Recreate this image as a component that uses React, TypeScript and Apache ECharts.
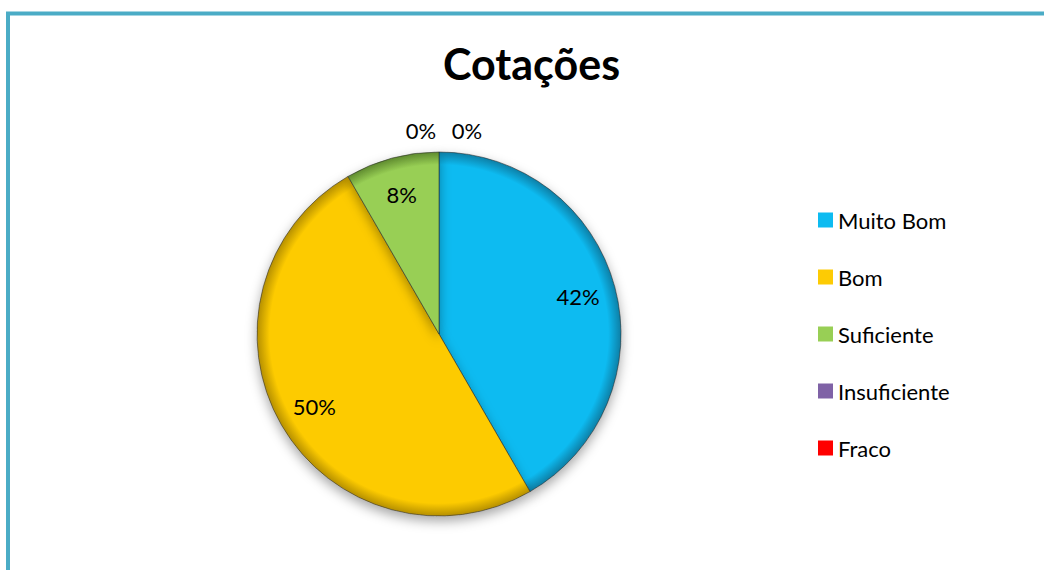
import React, { useEffect, useRef } from "react";
import * as echarts from "echarts";

const categories = ["Muito Bom", "Bom", "Suficiente", "Insuficiente", "Fraco"];
const counts = [5, 6, 1, 0, 0];
const colors = ["#0DBBF1", "#FDCB04", "#98CF55", "#7F62A6", "#FF0000"];
const rimColors = ["#0A7FA6", "#B58F06", "#5E8A2E", "#553F72", "#A00000"];
const titleText = "Cotações";

const FONT = "Lato, 'Open Sans', sans-serif";
const CX = 439;
const CY = 334;
const R = 182;

export default function App() {
  const ref = useRef<HTMLDivElement>(null);
  useEffect(() => {
    if (!ref.current) return;
    const chart = echarts.init(ref.current, undefined, { renderer: "svg" });
    const mainData = categories.map((name, i) => ({
      name,
      value: counts[i],
      itemStyle: {
        color: {
          type: "radial",
          x: CX,
          y: CY,
          r: R,
          global: true,
          colorStops: [
            { offset: 0, color: colors[i] },
            { offset: 0.93, color: colors[i] },
            { offset: 1, color: rimColors[i] },
          ],
        },
      },
    }));
    const labelData = categories.map((name, i) => ({ name, value: counts[i] }));
    chart.setOption({
      animation: false,
      color: colors,
      title: {
        text: titleText,
        left: 438,
        top: 37,
        textStyle: { fontFamily: FONT, fontSize: 43, fontWeight: "bold", color: "#000" },
      },
      legend: {
        data: categories.map((name, i) => ({
          name,
          itemStyle: { color: colors[i], borderWidth: 0 },
        })),
        orient: "vertical",
        left: 813,
        top: 204,
        itemWidth: 15,
        itemHeight: 15,
        itemGap: 35,
        icon: "rect",
        selectedMode: false,
        itemStyle: { borderWidth: 0, shadowBlur: 0 },
        textStyle: { fontFamily: FONT, fontSize: 22, color: "#000" },
      },
      graphic: [
        {
          type: "rect",
          shape: { x: 8, y: 13.5, width: 1200, height: 700 },
          style: { fill: "none", stroke: "#4BACC6", lineWidth: 4 },
          silent: true,
        },
      ],
      series: [
        {
          type: "pie",
          center: [CX, CY],
          radius: R,
          startAngle: 90,
          clockwise: true,
          silent: true,
          label: { show: false },
          labelLine: { show: false },
          itemStyle: {
            borderColor: "rgba(40,40,40,0.55)",
            borderWidth: 1,
            shadowBlur: 12,
            shadowOffsetY: 5,
            shadowColor: "rgba(0,0,0,0.35)",
          },
          data: mainData,
        },
        {
          type: "pie",
          center: [CX, CY],
          radius: [100, R],
          startAngle: 90,
          clockwise: true,
          silent: true,
          percentPrecision: 0,
          avoidLabelOverlap: false,
          itemStyle: { color: "rgba(0,0,0,0)", borderWidth: 0 },
          label: {
            show: true,
            position: "inside",
            formatter: "{d}%",
            fontFamily: FONT,
            fontSize: 22,
            color: "#000",
          },
          labelLine: { show: false },
          labelLayout: (params: any) => {
            if (params.dataIndex === 3) return { dx: -18, dy: -60 };
            if (params.dataIndex === 4) return { dx: 28, dy: -60 };
            return {};
          },
          data: labelData,
        },
      ],
    });
    return () => chart.dispose();
  }, []);
  return (
    <div
      ref={ref}
      style={{ position: "fixed", left: 0, top: 0, width: 1044, height: 570, background: "#fff" }}
    />
  );
}
